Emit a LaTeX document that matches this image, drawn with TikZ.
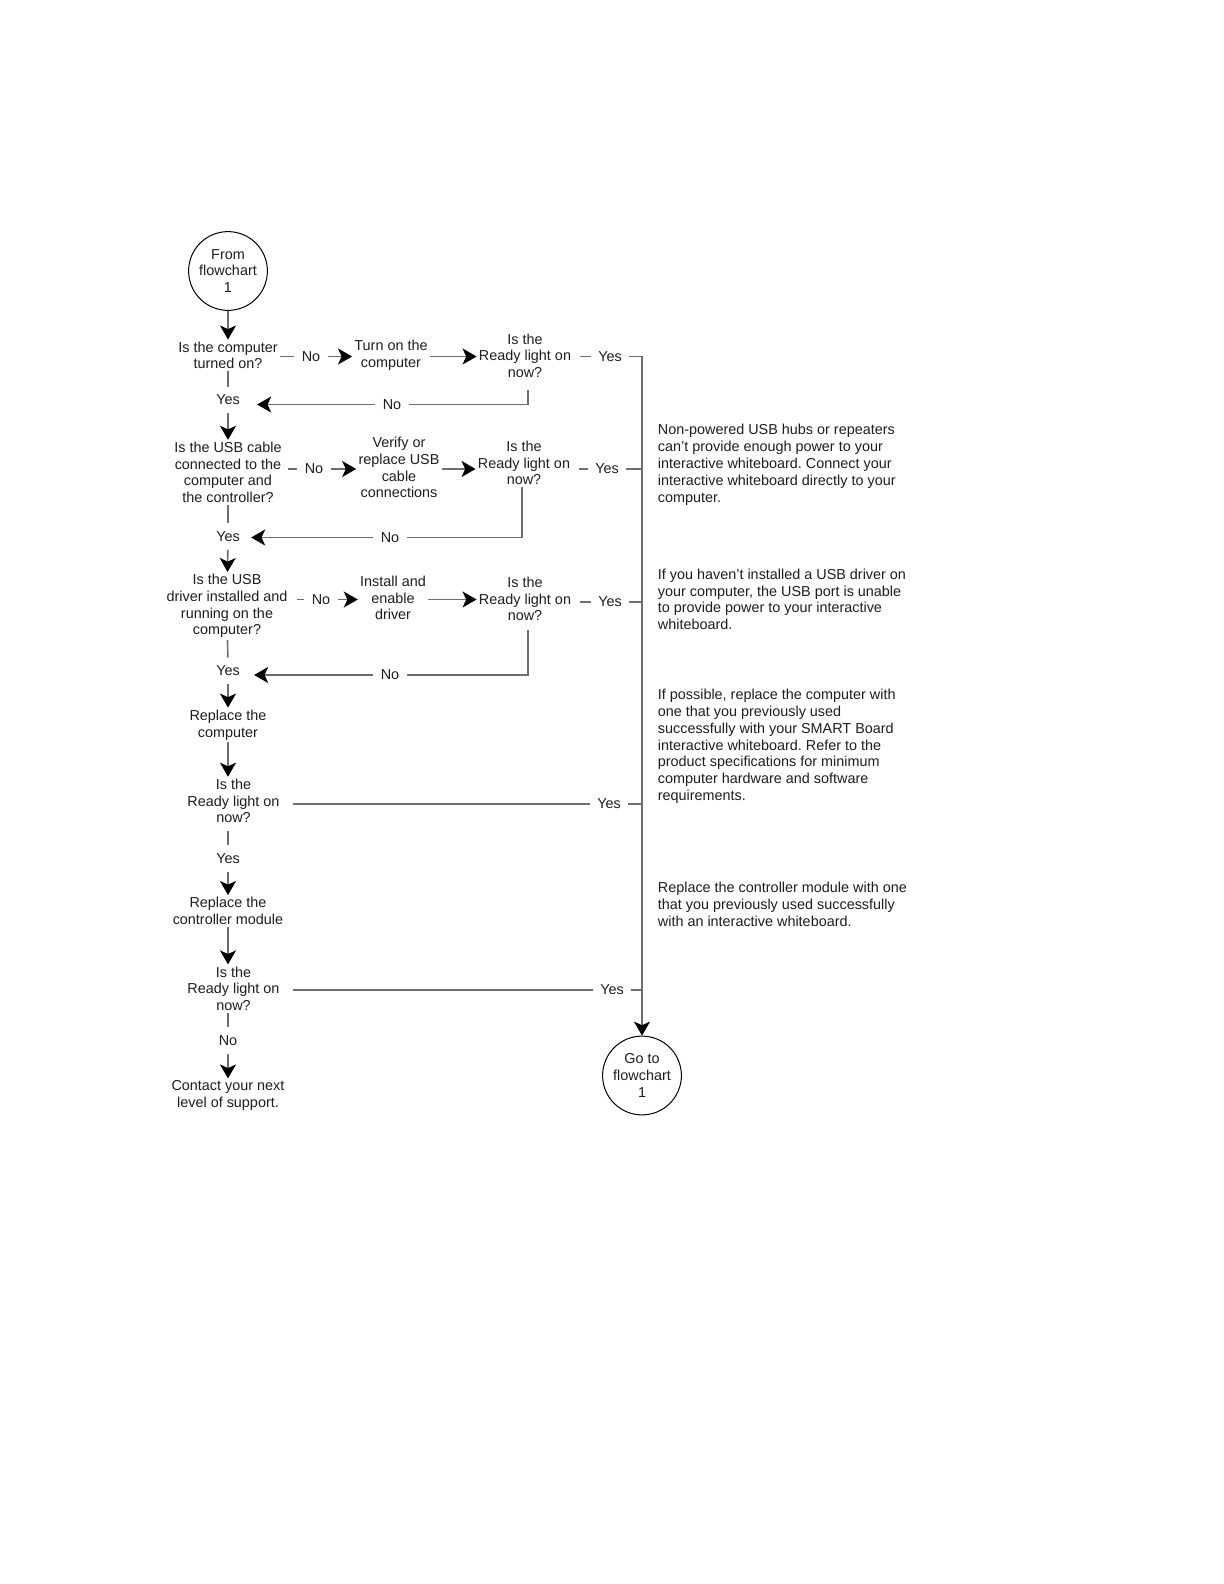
\documentclass[tikz,border=0pt]{standalone}
\usepackage{fontspec}
\setmainfont{Liberation Sans}
\usetikzlibrary{arrows.meta, positioning, calc}
\definecolor{flowGray}{HTML}{6E6E6E}
\definecolor{textDark}{HTML}{1E1E1E}
\frenchspacing

\begin{document}
\begin{tikzpicture}[x=0.5pt, y=-0.5pt,
    ftext/.style={font=\fontsize{7.2}{8.3}\selectfont, text=textDark, align=center, inner sep=1pt},
    flbl/.style={font=\fontsize{7.2}{8.3}\selectfont, text=textDark, inner xsep=3.5pt, inner ysep=4pt},
    fnote/.style={font=\fontsize{7.2}{8.45}\selectfont, text=textDark, align=left, anchor=north west, inner sep=0pt},
    fterm/.style={circle, draw=black, line width=0.5pt, minimum size=39.4pt, inner sep=0pt,
      font=\fontsize{7.2}{8.3}\selectfont, text=textDark, align=center},
    fline/.style={draw=flowGray, line width=0.8pt},
    farr/.style={fline, -{Stealth[length=7pt, width=8pt, inset=1.8pt, black]}}
  ]
  \path[fill=white, use as bounding box] (0,0) rectangle (1224,1584);

  % terminals
  \node[fterm] (start) at (228,271) {From\\flowchart\\1};
  \node[fterm] (endc) at (642,1075.5) {Go to\\flowchart\\1};

  % row 1
  \node[ftext] (q1) at (228,355.5) {Is the computer\\turned on?};
  \node[flbl] (noA1) at (311,356.5) {No};
  \node[ftext] (turn) at (391,355.5) {Turn on the\\computer};
  \node[ftext] (ready1) at (525,355.5) {Is the\\Ready light on\\now?};
  \node[flbl] (yesA1) at (610,356.5) {Yes};
  \node[flbl] (noB1) at (392,404.5) {No};
  \node[flbl] (yesB1) at (228,400) {Yes};

  % row 2
  \node[ftext] (q2) at (228,472.4) {Is the USB cable\\connected to the\\computer and\\the controller?};
  \node[flbl] (noA2) at (314,469) {No};
  \node[ftext] (verify) at (399,467.7) {Verify or\\replace USB\\cable\\connections};
  \node[ftext] (ready2) at (524,463) {Is the\\Ready light on\\now?};
  \node[flbl] (yesA2) at (607,469) {Yes};
  \node[flbl] (noB2) at (390,537.5) {No};
  \node[flbl] (yesB2) at (228,536.5) {Yes};

  % row 3
  \node[ftext] (q3) at (227,606) {Is the USB\\driver installed and\\running on the\\computer?};
  \node[flbl] (noA3) at (321,599.5) {No};
  \node[ftext] (install) at (393,598) {Install and\\enable\\driver};
  \node[ftext] (ready3) at (525,599) {Is the\\Ready light on\\now?};
  \node[flbl] (yesA3) at (610,602) {Yes};
  \node[flbl] (noB3) at (390,675) {No};
  \node[flbl] (yesB3) at (228,671) {Yes};

  % lower column
  \node[ftext] (repc) at (228,725) {Replace the\\computer};
  \node[ftext] (ready4) at (233.5,801) {Is the\\Ready light on\\now?};
  \node[flbl] (yesA4) at (609,804) {Yes};
  \node[flbl] (yesB4) at (228,858.5) {Yes};
  \node[ftext] (repm) at (228,911) {Replace the\\controller module};
  \node[ftext] (ready5) at (233.5,988.7) {Is the\\Ready light on\\now?};
  \node[flbl] (yesA5) at (612,990) {Yes};
  \node[flbl] (noB5) at (228,1040.5) {No};
  \node[ftext] (contact) at (228,1095.7) {Contact your next\\level of support.};

  % notes
  \node[fnote] (note1) at (657.5,424) {Non-powered USB hubs or repeaters\\can’t provide enough power to your\\interactive whiteboard. Connect your\\interactive whiteboard directly to your\\computer.};
  \node[fnote] (note2) at (657.5,568.3) {If you haven’t installed a USB driver on\\your computer, the USB port is unable\\to provide power to your interactive\\whiteboard.};
  \node[fnote] (note3) at (657.5,688.5) {If possible, replace the computer with\\one that you previously used\\successfully with your SMART Board\\interactive whiteboard. Refer to the\\product specifications for minimum\\computer hardware and software\\requirements.};
  \node[fnote] (note4) at (657.5,881.4) {Replace the controller module with one\\that you previously used successfully\\with an interactive whiteboard.};

  % main column
  \draw[farr] (start) -- (q1);
  \draw[fline] (q1) -- (yesB1);
  \draw[farr] (yesB1) -- (q2);
  \draw[fline] (q2) -- (yesB2);
  \draw[farr] (yesB2) -- (q3);
  \draw[fline] (q3) -- (yesB3);
  \draw[farr] (yesB3) -- (repc);
  \draw[farr] (repc) -- (repc |- ready4.north);
  \draw[fline, shorten <=3pt] (yesB4 |- ready4.south) -- (yesB4);
  \draw[farr] (yesB4) -- (repm);
  \draw[farr] (repm) -- (repm |- ready5.north);
  \draw[fline] (noB5 |- ready5.south) -- (noB5);
  \draw[farr] (noB5) -- (contact);

  % side branches
  \draw[fline] (q1.east |- noA1) -- (noA1);
  \draw[farr] (noA1) -- (turn.west |- noA1);
  \draw[farr] (turn.east |- noA1) -- (ready1.west |- noA1);
  \draw[fline, shorten <=3.5pt] (ready1.east |- yesA1) -- (yesA1);
  \draw[fline, shorten <=5pt] ([xshift=1.5pt]ready1.south) |- (noB1);
  \draw[farr, shorten >=5pt] (noB1) -- (yesB1.east |- noB1);

  \draw[fline, shorten <=2pt] (q2.east |- noA2) -- (noA2);
  \draw[farr] (noA2) -- (verify.west |- noA2);
  \draw[farr] (verify.east |- noA2) -- (ready2.west |- noA2);
  \draw[fline, shorten <=3.5pt] (ready2.east |- yesA2) -- (yesA2);
  \draw[fline] ([xshift=-1pt]ready2.south) |- (noB2);
  \draw[farr, shorten >=2pt] (noB2) -- (yesB2.east |- noB2);

  \draw[fline, shorten <=3.5pt] (q3.east |- noA3) -- (noA3);
  \draw[farr] (noA3) -- (install.west |- noA3);
  \draw[farr] (install.east |- noA3) -- (ready3.west |- noA3);
  \draw[fline, shorten <=3.5pt] (ready3.east |- yesA3) -- (yesA3);
  \draw[fline, shorten <=3.5pt] ([xshift=1.5pt]ready3.south) |- (noB3);
  \draw[farr, shorten >=3.5pt] (noB3) -- (yesB3.east |- noB3);

  \draw[fline, shorten <=5.5pt] (ready4.east |- yesA4) -- (yesA4);
  \draw[fline, shorten <=5.5pt] (ready5.east |- yesA5) -- (yesA5);

  % yes bus to flowchart 1
  \draw[farr] (yesA1) -| (endc);
  \draw[fline] (yesA2) -- (yesA2 -| endc);
  \draw[fline] (yesA3) -- (yesA3 -| endc);
  \draw[fline] (yesA4) -- (yesA4 -| endc);
  \draw[fline] (yesA5) -- (yesA5 -| endc);
\end{tikzpicture}
\end{document}
